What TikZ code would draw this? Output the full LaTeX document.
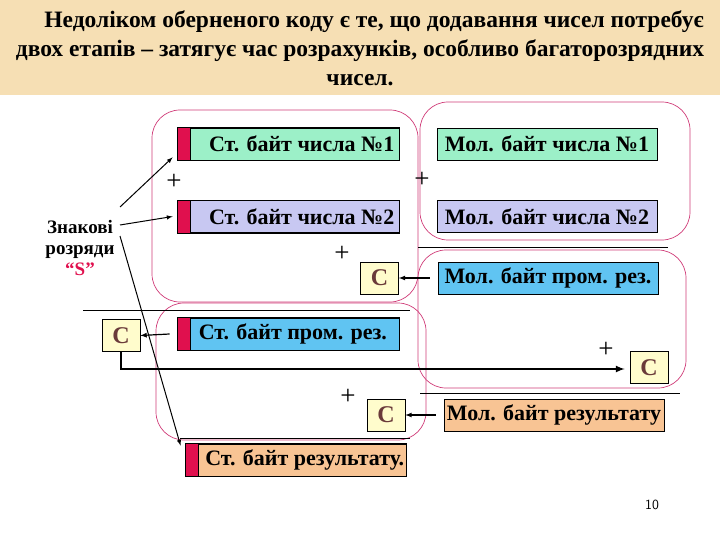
\documentclass[tikz,border=0pt]{standalone}
\usepackage{fontspec}
\setmainfont{Liberation Serif}
\begin{document}
\begin{tikzpicture}[x=1pt,y=-1pt,
  box/.style={draw=black,line width=0.8pt,minimum height=32pt,inner sep=0pt,font=\bfseries\fontsize{22}{22}\selectfont},
  cbox/.style={draw=black,line width=0.6pt,fill=cyel,minimum width=38pt,minimum height=32pt,inner sep=0pt,font=\bfseries\fontsize{24}{24}\selectfont,text=cbrown},
  blob/.style={draw=pinkl,line width=0.7pt,rounded corners=28pt},
  arr/.style={-latex,line width=1.2pt},
  sep/.style={line width=0.7pt},
  pl/.style={font=\fontsize{27}{27}\selectfont,inner sep=0pt}]
\definecolor{tan}{HTML}{F6DFB4}
\definecolor{gr}{HTML}{9CF0C8}
\definecolor{lav}{HTML}{C8C8F2}
\definecolor{bl}{HTML}{60C4F2}
\definecolor{org}{HTML}{F8C494}
\definecolor{cyel}{HTML}{FFFCCC}
\definecolor{cbrown}{HTML}{6A3A3A}
\definecolor{strip}{HTML}{E0104E}
\definecolor{pinkl}{HTML}{D03C78}
\useasboundingbox (0,0) rectangle (720,540);
\fill[tan] (0,0) rectangle (720,95);
\node[font=\bfseries\fontsize{23.5}{29}\selectfont,align=center] (title) at (360,48) {\hspace*{1.2em}Недоліком оберненого коду є те, що додавання чисел потребує\\двох етапів -- затягує час розрахунків, особливо багаторозрядних\\чисел.};
% blobs
\draw[blob] (152,110) rectangle (418,302);
\draw[blob] (420,102) rectangle (690,240);
\draw[blob] (156,303) rectangle (426,440);
\draw[blob] (418,250) rectangle (686,388);
% separators
\draw[sep] (83,310) coordinate (s1a) -- (410,310) coordinate (s1b);
\draw[sep] (418,247) coordinate (s2a) -- (668,247) coordinate (s2b);
\draw[sep] (420,393) coordinate (s3a) -- (680,393) coordinate (s3b);
\draw[sep] (180,438) coordinate (s4a) -- (410,438) coordinate (s4b);
% boxes
\node[box,fill=gr,minimum width=221pt] (st1) at (288.5,144) {\hspace*{1.2em}Ст. байт числа №1};
\node[box,fill=gr,minimum width=220pt] (mol1) at (547,144) {Мол. байт числа №1};
\node[box,fill=lav,minimum width=221pt] (st2) at (288.5,216.5) {\hspace*{1.2em}Ст. байт числа №2};
\node[box,fill=lav,minimum width=220pt] (mol2) at (547,216.5) {Мол. байт числа №2};
\node[cbox] (c1) at (379.5,278) {C};
\node[box,fill=bl,minimum width=220pt] (molp) at (548,278) {Мол. байт пром. рез.};
\node[cbox] (cl) at (121,335.5) {C};
\node[box,fill=bl,minimum width=221pt] (stp) at (288.5,334) {\hspace*{0.4em}Ст. байт пром. рез.};
\node[cbox] (cr) at (649,367.5) {C};
\node[cbox] (c2) at (386,415) {C};
\node[box,fill=org,minimum width=220pt] (molr) at (554,415) {Мол. байт результату};
\node[box,fill=org,minimum width=220pt] (str) at (296,460) {\hspace*{0.8em}Ст. байт результату.};
% strips
\fill[strip] (st1.north west) rectangle ([xshift=13pt]st1.south west);
\fill[strip] (st2.north west) rectangle ([xshift=13pt]st2.south west);
\fill[strip] (stp.north west) rectangle ([xshift=13pt]stp.south west);
\fill[strip] (str.north west) rectangle ([xshift=13pt]str.south west);
\draw[line width=0.8pt] (st1.north west) rectangle (st1.south east) ([xshift=13pt]st1.north west) -- ([xshift=13pt]st1.south west);
\draw[line width=0.8pt] (st2.north west) rectangle (st2.south east) ([xshift=13pt]st2.north west) -- ([xshift=13pt]st2.south west);
\draw[line width=0.8pt] (stp.north west) rectangle (stp.south east) ([xshift=13pt]stp.north west) -- ([xshift=13pt]stp.south west);
\draw[line width=0.8pt] (str.north west) rectangle (str.south east) ([xshift=13pt]str.north west) -- ([xshift=13pt]str.south west);
% plus signs
\node[pl] (p1) at (174,182) {+};
\node[pl] (p2) at (422,180) {+};
\node[pl] (p3) at (342,254) {+};
\node[pl] (p4) at (606,350) {+};
\node[pl] (p5) at (348,397) {+};
% sign bits label
\node[font=\bfseries\fontsize{19}{21}\selectfont,align=center] (zn) at (80,248) {Знакові\\розряди\\\textcolor{strip}{“S”}};
\coordinate (z1) at (120,207);
\coordinate (z2) at (120,225);
\coordinate (z3) at (120,236);
\draw[arr,line width=1pt] (z1) -- ([xshift=-5pt,yshift=3pt]st1.south west);
\draw[arr,line width=1pt] (z2) -- ([xshift=-5pt]st2.west);
\draw[arr,line width=1pt] (z3) -- ([xshift=-5pt,yshift=-2pt]str.north west);
% carry arrows
\draw[arr] ([xshift=-8pt]stp.west) -- (cl.east);
\draw[arr] ([xshift=-8pt]molp.west) -- (c1.east);
\draw[arr] ([xshift=-8pt]molr.west) -- (c2.east);
\draw[-latex,line width=2pt] (cl.south) -- (121,369) -- ([xshift=-5pt]cr.west |- 0,369);
\node[font=\sffamily\fontsize{14}{14}\selectfont] (pg) at (652,505) {10};
\end{tikzpicture}
\end{document}
